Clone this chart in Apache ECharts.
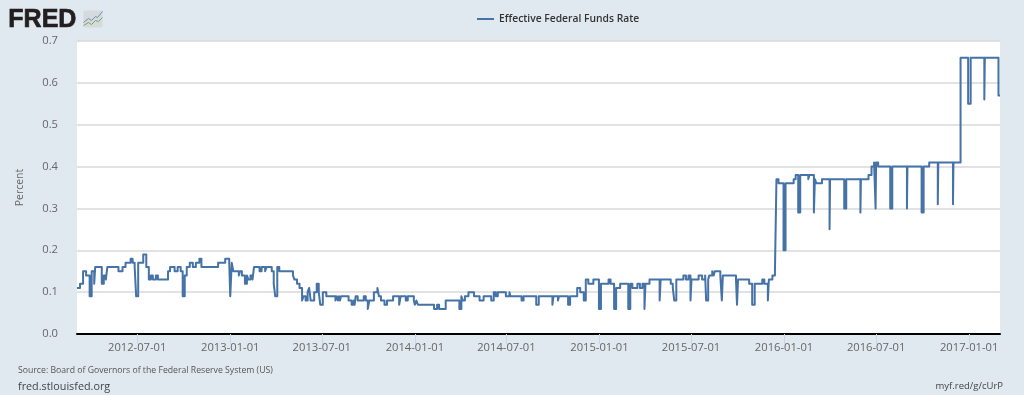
<!DOCTYPE html>
<html><head><meta charset="utf-8">
<style>html,body{margin:0;padding:0;background:#e1e9f0}#c{width:1024px;height:395px}</style>
<script src="https://cdn.jsdelivr.net/npm/echarts@6/dist/echarts.min.js"></script>
</head><body><div id="c"></div>
<script>
const seriesName = 'Effective Federal Funds Rate';
const yAxisTitle = 'Percent';
const sourceText = 'Source: Board of Governors of the Federal Reserve System (US)';
const siteText = 'fred.stlouisfed.org';
const shortLink = 'myf.red/g/cUrP';
const xTickDates = ['2012-07-01','2013-01-01','2013-07-01','2014-01-01','2014-07-01','2015-01-01','2015-07-01','2016-01-01','2016-07-01','2017-01-01'];
// each pair: date on which the rate changed, new rate
const changes2012 = [['2012-03-04',.11],['2012-03-10',.12],['2012-03-16',.15],['2012-03-22',.14],['2012-03-29',.09],['2012-04-02',.15],['2012-04-07',.12],['2012-04-09',.16],['2012-04-22',.12],['2012-04-26',.14],['2012-04-30',.13],['2012-05-03',.16],['2012-05-25',.15],['2012-06-02',.16],['2012-06-08',.17],['2012-06-18',.18],['2012-06-22',.17],['2012-06-26',.16],['2012-06-29',.09],['2012-07-03',.17],['2012-07-13',.19],['2012-07-19',.16],['2012-07-24',.13],['2012-07-28',.14],['2012-08-01',.13],['2012-08-07',.14],['2012-08-11',.13],['2012-08-31',.15],['2012-09-04',.16],['2012-09-13',.15],['2012-09-19',.16],['2012-09-25',.15],['2012-09-29',.09],['2012-10-03',.14],['2012-10-07',.16],['2012-10-13',.17],['2012-10-19',.16],['2012-10-25',.17],['2012-11-01',.18],['2012-11-05',.16],['2012-12-08',.17],['2012-12-22',.18],['2012-12-30',.17]];
const changes2013 = [['2013-01-01',.09],['2013-01-04',.17],['2013-01-07',.15],['2013-01-18',.14],['2013-01-20',.15],['2013-01-24',.14],['2013-01-30',.12],['2013-02-03',.14],['2013-02-06',.13],['2013-02-10',.14],['2013-02-14',.13],['2013-02-17',.16],['2013-02-28',.15],['2013-03-04',.16],['2013-03-11',.15],['2013-03-14',.16],['2013-03-24',.15],['2013-03-28',.12],['2013-03-31',.09],['2013-04-04',.16],['2013-04-08',.15],['2013-05-05',.14],['2013-05-08',.13],['2013-05-13',.12],['2013-05-18',.11],['2013-05-23',.08],['2013-05-26',.09],['2013-05-30',.08],['2013-06-03',.10],['2013-06-06',.11],['2013-06-09',.08],['2013-06-16',.10],['2013-06-21',.12],['2013-06-25',.10],['2013-06-28',.07],['2013-07-03',.10],['2013-07-10',.09],['2013-07-28',.08],['2013-07-31',.09],['2013-08-02',.08],['2013-08-04',.09],['2013-08-06',.08],['2013-08-08',.09],['2013-08-23',.08],['2013-08-29',.07],['2013-09-02',.08],['2013-09-04',.07],['2013-09-06',.09],['2013-09-10',.08],['2013-09-22',.09],['2013-09-26',.08],['2013-09-30',.06],['2013-10-03',.08],['2013-10-12',.10],['2013-10-19',.11],['2013-10-22',.09],['2013-10-26',.08],['2013-11-02',.07],['2013-11-07',.08],['2013-11-19',.09],['2013-12-01',.07],['2013-12-04',.09],['2013-12-14',.08],['2013-12-18',.09],['2013-12-30',.08]];
const changes2014 = [['2014-01-01',.07],['2014-01-04',.08],['2014-01-07',.07],['2014-02-08',.06],['2014-02-14',.07],['2014-02-18',.06],['2014-03-03',.08],['2014-03-30',.06],['2014-04-03',.09],['2014-04-06',.08],['2014-04-10',.09],['2014-04-17',.10],['2014-04-28',.09],['2014-05-09',.08],['2014-05-17',.09],['2014-06-01',.08],['2014-06-06',.10],['2014-06-10',.09],['2014-06-14',.10],['2014-06-30',.09],['2014-07-07',.10],['2014-07-09',.09],['2014-07-31',.08],['2014-08-04',.09],['2014-08-29',.07],['2014-09-03',.09],['2014-09-30',.07],['2014-10-02',.09],['2014-10-11',.08],['2014-10-13',.09],['2014-10-31',.07],['2014-11-04',.09],['2014-11-18',.11],['2014-11-24',.10],['2014-12-01',.08],['2014-12-05',.13],['2014-12-10',.12],['2014-12-20',.13],['2014-12-31',.06]];
const changes2015 = [['2015-01-04',.12],['2015-01-19',.13],['2015-01-23',.12],['2015-01-30',.06],['2015-02-03',.11],['2015-02-11',.12],['2015-02-27',.06],['2015-03-03',.12],['2015-03-07',.11],['2015-03-17',.12],['2015-03-22',.11],['2015-03-27',.12],['2015-03-31',.06],['2015-04-02',.12],['2015-04-10',.13],['2015-04-30',.08],['2015-05-02',.13],['2015-05-22',.12],['2015-05-26',.11],['2015-05-29',.08],['2015-06-02',.13],['2015-06-16',.14],['2015-06-21',.13],['2015-06-26',.14],['2015-06-30',.08],['2015-07-02',.13],['2015-07-16',.14],['2015-07-23',.13],['2015-07-29',.14],['2015-07-31',.08],['2015-08-04',.13],['2015-08-06',.14],['2015-08-12',.15],['2015-08-15',.14],['2015-08-17',.15],['2015-08-28',.14],['2015-08-31',.08],['2015-09-02',.14],['2015-09-28',.13],['2015-09-30',.07],['2015-10-02',.13],['2015-10-24',.12],['2015-10-30',.07],['2015-11-04',.12],['2015-11-19',.13],['2015-11-23',.12],['2015-11-30',.08],['2015-12-02',.13],['2015-12-09',.14],['2015-12-14',.15],['2015-12-17',.37],['2015-12-21',.36],['2015-12-31',.20]];
const changes2016 = [['2016-01-04',.36],['2016-01-20',.37],['2016-01-24',.38],['2016-01-29',.29],['2016-02-02',.38],['2016-02-18',.37],['2016-02-20',.38],['2016-02-29',.29],['2016-03-02',.37],['2016-03-05',.36],['2016-03-16',.37],['2016-03-31',.25],['2016-04-01',.37],['2016-04-29',.30],['2016-05-03',.37],['2016-05-31',.29],['2016-06-01',.37],['2016-06-16',.38],['2016-06-22',.40],['2016-06-27',.41],['2016-06-30',.30],['2016-07-01',.41],['2016-07-05',.40],['2016-07-29',.30],['2016-08-02',.40],['2016-08-31',.30],['2016-09-01',.40],['2016-09-29',.29],['2016-10-03',.40],['2016-10-14',.41],['2016-10-31',.31],['2016-11-01',.41],['2016-11-30',.31],['2016-12-01',.41],['2016-12-15',.66],['2016-12-30',.55]];
const changes2017 = [['2017-01-04',.66],['2017-01-31',.56],['2017-02-01',.66],['2017-02-28',.57],['2017-03-03',.57]];
const rateData = [].concat(changes2012,changes2013,changes2014,changes2015,changes2016,changes2017).map(p=>[Date.parse(p[0]),p[1]]);
const xTicks = xTickDates.map(d=>Date.parse(d));

const chart = echarts.init(document.getElementById('c'), null, {renderer:'canvas'});
const font = '"Open Sans", sans-serif';
chart.setOption({
  animation:false,
  backgroundColor:'#e1e9f0',
  textStyle:{fontFamily:font},
  legend:{
    top:9, left:472, itemWidth:17, itemHeight:2, itemGap:4,
    icon:'rect',
    textStyle:{fontFamily:font,fontSize:10.3,color:'#333',fontWeight:600},
    data:[seriesName]
  },
  grid:{left:77,right:24,top:41,bottom:61},
  xAxis:{
    type:'value',
    min:Date.parse('2012-03-04'), max:Date.parse('2017-03-03'),
    splitLine:{show:false},
    axisLine:{show:true,onZero:false,lineStyle:{color:'#000',width:2}},
    axisTick:{show:true,length:10,lineStyle:{color:'#ccd6eb',width:1},customValues:xTicks},
    axisLabel:{
      color:'#666',fontSize:11.2,margin:8,hideOverlap:false,
      customValues:xTicks,
      formatter:v=>new Date(v).toISOString().slice(0,10)
    }
  },
  yAxis:{
    type:'value',min:0,max:.7,interval:.1,
    name:yAxisTitle,nameLocation:'middle',nameGap:51,
    nameTextStyle:{color:'#666',fontSize:10.5,fontFamily:font},
    axisLine:{show:false},axisTick:{show:false},
    axisLabel:{color:'#666',fontSize:11.2,margin:19,padding:[2,0,0,0],formatter:v=>v.toFixed(1)},
    splitLine:{lineStyle:{color:'#d8d8d8',width:1.5}}
  },
  graphic:[
    {type:'rect',left:77,top:41,shape:{width:923,height:293},style:{fill:'#fff'},z:-1},
    {type:'text',left:8,top:7,style:{text:'FRED',fontFamily:'"Liberation Sans",sans-serif',fontWeight:'bold',fontSize:25,fill:'#231f20',stroke:'#231f20',lineWidth:0.7}},
    {type:'group',left:81,top:9,children:[
      {type:'rect',shape:{x:0,y:0,width:19,height:17,r:1},style:{fill:'#d5dadc'}},
      {type:'polyline',shape:{points:[[0,12],[5,8],[8,10],[12,6],[14,7],[19,1]]},style:{stroke:'#6d8fb5',fill:null,lineWidth:1}},
      {type:'polyline',shape:{points:[[0,15],[5,12],[8,14],[12,10],[15,11],[19,7]]},style:{stroke:'#7fa35a',fill:null,lineWidth:1}}
    ]},
    {type:'text',left:18,top:366,style:{text:sourceText,fontFamily:font,fontSize:8.7,fill:'#555'}},
    {type:'text',left:18,top:381,style:{text:siteText,fontFamily:font,fontSize:10.8,fill:'#444'}},
    {type:'text',right:21,top:381,style:{text:shortLink,fontFamily:font,fontSize:9.5,fill:'#444'}}
  ],
  series:[{
    name:seriesName,type:'line',step:'end',data:rateData,
    showSymbol:false,symbol:'none',
    lineStyle:{color:'#4572a7',width:2,join:'round'},
    itemStyle:{color:'#4572a7'}
  }]
});
</script></body></html>
